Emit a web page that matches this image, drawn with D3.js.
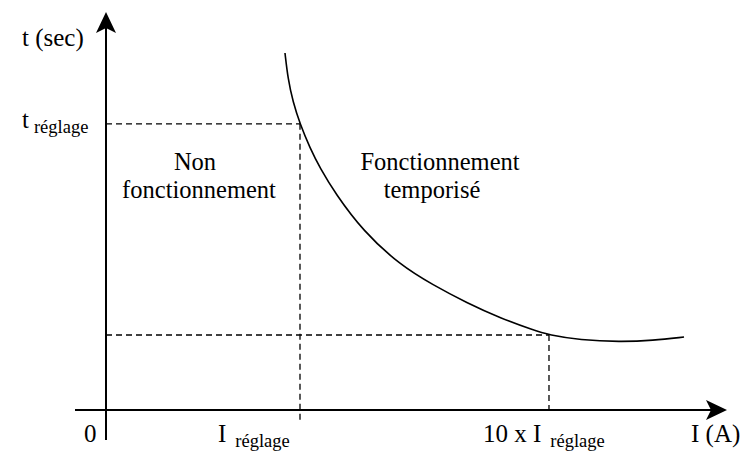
<!DOCTYPE html>
<html>
<head>
<meta charset="utf-8">
<script src="https://cdn.jsdelivr.net/npm/d3@7/dist/d3.min.js"></script>
<style>
  html, body { margin: 0; padding: 0; background: #fff; }
  svg { display: block; }
  text { font-family: "Liberation Serif", "Times New Roman", serif; fill: #000; }
</style>
</head>
<body>
<svg id="chart" width="741" height="451"></svg>
<script>
// Inverse-time tripping curve (schematic units, 0–100 on both axes)
const curveI = [28.87, 29.35, 30.16, 31.29, 32.90, 34.52, 36.94, 41.45, 47.42, 52.74, 58.23, 63.55, 68.87, 71.45, 76.45, 82.90, 88.23, 93.23];
const curveT = [89.70, 83.20, 77.39, 71.90, 65.83, 60.80, 54.52, 44.97, 36.43, 31.41, 26.88, 23.12, 20.10, 18.84, 17.59, 17.09, 17.46, 18.34];

// Reference markers
const iSetting = 31.29;     // I réglage
const tSetting = 71.90;     // t réglage
const iTenTimes = 71.45;    // 10 x I réglage
const tTenTimes = 18.84;    // time at 10 x I réglage

// Zone labels
const zoneLeft = ["Non", "fonctionnement"];
const zoneRight = ["Fonctionnement", "temporisé"];

const svg = d3.select("#chart");
const x = d3.scaleLinear().domain([0, 100]).range([106, 726]);
const y = d3.scaleLinear().domain([0, 100]).range([410, 12]);

// Axes
svg.append("line")
  .attr("x1", 75).attr("x2", x(100) - 12)
  .attr("y1", y(0)).attr("y2", y(0))
  .attr("stroke", "#000").attr("stroke-width", 2);
svg.append("line")
  .attr("x1", x(0)).attr("x2", x(0))
  .attr("y1", 440).attr("y2", y(100) + 12)
  .attr("stroke", "#000").attr("stroke-width", 2);

// Arrow heads
const xt = x(100) + 1, yt = y(0);
svg.append("path")
  .attr("d", `M${xt},${yt} L${xt - 21},${yt - 10} L${xt - 16},${yt} L${xt - 21},${yt + 10} Z`)
  .attr("fill", "#000");
const xa = x(0), ya = y(100);
svg.append("path")
  .attr("d", `M${xa},${ya} L${xa - 10},${ya + 21} L${xa},${ya + 16} L${xa + 10},${ya + 21} Z`)
  .attr("fill", "#000");

// Dashed guide lines
function dashed(x1, y1, x2, y2) {
  svg.append("line").attr("x1", x1).attr("y1", y1).attr("x2", x2).attr("y2", y2)
    .attr("stroke", "#000").attr("stroke-width", 1.3).attr("stroke-dasharray", "6,4");
}
dashed(x(0), y(tSetting), x(iSetting), y(tSetting));
dashed(x(iSetting), y(tSetting), x(iSetting), y(0) + 10);
dashed(x(0), y(tTenTimes), x(iTenTimes), y(tTenTimes));
dashed(x(iTenTimes), y(tTenTimes), x(iTenTimes), y(0));

// Curve (B-spline through the sampled points)
const pts = curveI.map((v, i) => [v, curveT[i]]);
svg.append("path")
  .datum(pts)
  .attr("d", d3.line().x(d => x(d[0])).y(d => y(d[1])).curve(d3.curveBasis))
  .attr("fill", "none").attr("stroke", "#000").attr("stroke-width", 1.6);

// Labels
function label(px, py, main, sub, gap) {
  const t = svg.append("text").attr("x", px).attr("y", py).attr("font-size", 25);
  t.append("tspan").text(main);
  if (sub) {
    t.append("tspan").attr("font-size", 18.5).attr("dx", gap).attr("dy", 5).text(sub);
  }
  return t;
}
label(22, 46, "t (sec)");
label(22, 128, "t", "réglage", 5);
label(84, 442, "0");
label(218, 442, "I", "réglage", 9);
label(483, 442, "10 x I", "réglage", 9);
label(691, 442, "I (A)");

function center(px, py, s) {
  svg.append("text").attr("x", px).attr("y", py).attr("font-size", 24.5)
    .attr("text-anchor", "middle").text(s);
}
center(195, 170, zoneLeft[0]);
center(199, 198, zoneLeft[1]);
center(440, 170, zoneRight[0]);
center(432, 198, zoneRight[1]);
</script>
</body>
</html>
